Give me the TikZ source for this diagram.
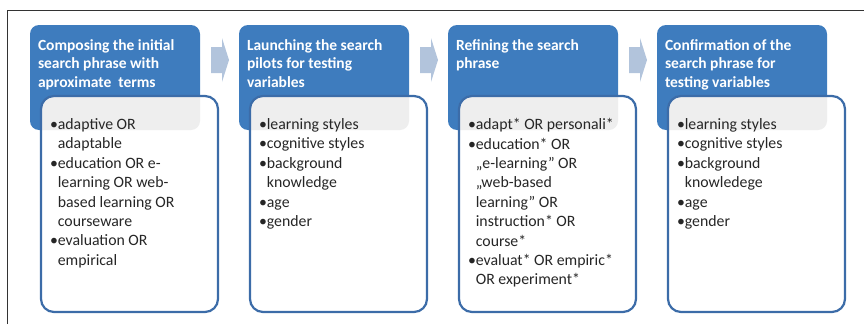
\documentclass[tikz,border=0pt]{standalone}
\usepackage{fontspec}
\setmainfont{Carlito}
\definecolor{headBlue}{RGB}{62,124,190}
\definecolor{edgeBlue}{RGB}{60,108,168}
\definecolor{arrowGray}{RGB}{178,196,220}
\definecolor{bandGray}{RGB}{238,238,238}
\newcommand{\subline}{\hphantom{•}}
\begin{document}
\begin{tikzpicture}[x=1pt,y=-1pt,
			every node/.style={inner sep=0pt,outer sep=0pt},
			headbox/.style={fill=headBlue,rounded corners=9pt},
			listbox/.style={draw=edgeBlue,line width=2.2pt,rounded corners=13pt},
			headtext/.style={anchor=north west,align=left,text=white,font=\fontsize{15.5}{18.6}\selectfont\bfseries},
			listtext/.style={anchor=north west,align=left,text=black!85,font=\fontsize{15.8}{19.4}\selectfont},
			stepArrow/.style={fill=arrowGray},
			declare function={
				colStep = 209;
				headL = 30;
				headR = 200;
				headT = 25;
				headB = 130;
				listL = 41;
				listR = 218;
				listT = 96;
				listB = 312;
				arrowX = 211;
				arrowY = 60;
				textX = 38;
				textY = 39.5;
				itemX = 50;
				itemY = 118.5;
			}
			]
			\useasboundingbox (0,0) rectangle (864,324);
			\draw[black!80,line width=1pt] (7,324) -- (7,10) -- (864,10);
			\foreach \i in {0,1,2,3}{
				\pgfmathsetmacro{\dx}{\i*colStep}
				\fill[headbox] (headL+\dx,headT) rectangle (headR+\dx,headB);
				\fill[white,rounded corners=13pt] (listL+\dx,listT) rectangle (listR+\dx,listB);
				\begin{scope}
					\clip[rounded corners=13pt] (listL+\dx,listT) rectangle (listR+\dx,listB);
					\fill[bandGray,rounded corners=9pt] (headL+\dx,headT) rectangle (headR+\dx,headB);
				\end{scope}
				\draw[listbox] (listL+\dx,listT) rectangle (listR+\dx,listB);
			}
			\foreach \i in {0,1,2}{
				\pgfmathsetmacro{\dx}{\i*colStep}
				\coordinate (step\i) at (arrowX+\dx,arrowY);
				\fill[stepArrow] (step\i) ++(0,-13) -- ++(11,0) -- ++(0,-9) -- ++(7,22) -- ++(-7,22) -- ++(0,-9) -- ++(-11,0) -- cycle;
			}
			\node[headtext] (head0) at (textX,textY) {Composing the initial\\search phrase with\\aproximate~ terms};
			\node[headtext] (head1) at (textX+colStep,textY) {Launching the search\\pilots for testing\\variables};
			\node[headtext] (head2) at (textX+2*colStep,textY) {Refining the search\\phrase};
			\node[headtext] (head3) at (textX+3*colStep,textY) {Confirmation of the\\search phrase for\\testing variables};
			\node[listtext] (list0) at (itemX,itemY) {•adaptive OR\\\subline adaptable\\•education OR e-\\\subline learning OR web-\\\subline based learning OR\\\subline courseware\\•evaluation OR\\\subline empirical};
			\node[listtext] (list1) at (itemX+colStep,itemY) {•learning styles\\•cognitive styles\\•background\\\subline knowledge\\•age\\•gender};
			\node[listtext] (list2) at (itemX+2*colStep,itemY) {•adapt* OR personali*\\•education* OR\\\subline „e-learning” OR\\\subline „web-based\\\subline learning” OR\\\subline instruction* OR\\\subline course*\\•evaluat* OR empiric*\\\subline OR experiment*};
			\node[listtext] (list3) at (itemX+3*colStep,itemY) {•learning styles\\•cognitive styles\\•background\\\subline knowledege\\•age\\•gender};
		\end{tikzpicture}
\end{document}
